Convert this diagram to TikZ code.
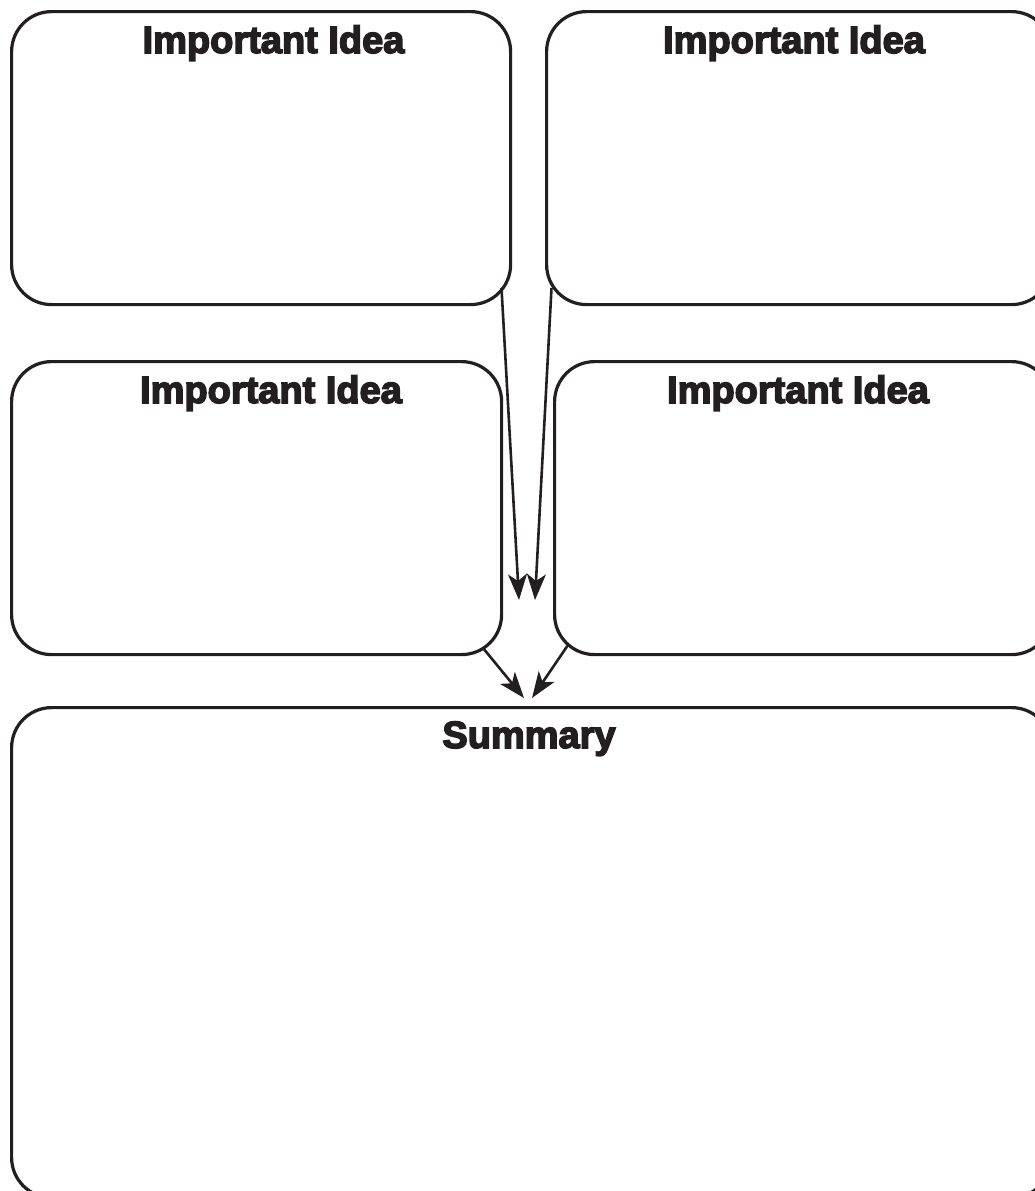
\documentclass[tikz,border=0pt]{standalone}
\usepackage{fontspec}
\usetikzlibrary{arrows.meta}
\newfontfamily\titlefont[FakeBold=4]{Liberation Sans Bold}
\definecolor{ink}{HTML}{231F20}
\begin{document}
\begin{tikzpicture}[x=1pt,y=-1pt,
  box/.style={draw=ink, line width=3.2pt, rounded corners=40pt, inner sep=0pt, anchor=north west},
  ttl/.style={anchor=base, inner sep=0pt, text=ink, font=\titlefont\fontsize{38}{40}\selectfont},
  arr/.style={draw=ink, line width=2.6pt, -{Stealth[length=26pt,width=19pt,inset=7pt]}}]
\useasboundingbox (0,0) rectangle (1035,1191);
\clip (0,0) rectangle (1035,1191);
\node[box, minimum width=499pt, minimum height=293pt] (A) at (10,10) {};
\node[box, minimum width=505pt, minimum height=293pt] (B) at (545,10) {};
\node[box, minimum width=490pt, minimum height=293pt] (C) at (10,360) {};
\node[box, minimum width=497pt, minimum height=293pt] (D) at (553,360) {};
\node[box, minimum width=1040pt, minimum height=490pt] (S) at (10,706) {};
\node[ttl] (tA) at (273.5,53) {Important Idea};
\node[ttl] (tB) at (794,53) {Important Idea};
\node[ttl] (tC) at (271,403) {Important Idea};
\node[ttl] (tD) at (798,403) {Important Idea};
\node[ttl] (tS) at (529,748) {Summary};
\coordinate (A-out) at (501.5,288);
\coordinate (B-out) at (551.5,288);
\coordinate (C-out) at (483,648);
\coordinate (D-out) at (568,645);
\coordinate (tip1) at (519,600);
\coordinate (tip2) at (535,600);
\coordinate (tip3) at (524,698);
\coordinate (tip4) at (532,698);
\draw[arr] (A-out) -- (tip1);
\draw[arr] (B-out) -- (tip2);
\draw[arr] (C-out) -- (tip3);
\draw[arr] (D-out) -- (tip4);
\end{tikzpicture}
\end{document}
